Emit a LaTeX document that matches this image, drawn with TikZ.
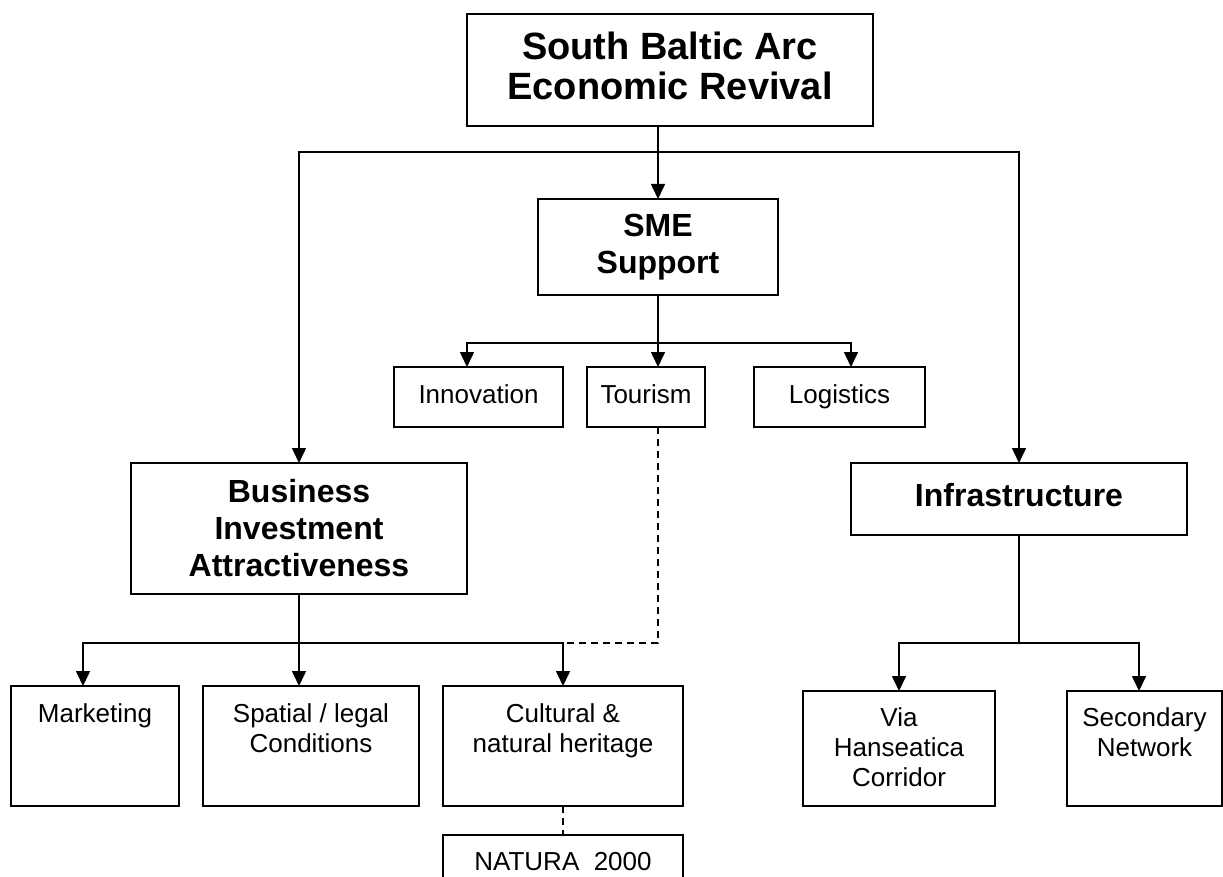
\documentclass[tikz,border=0pt]{standalone}
\usepackage{fontspec}
\setmainfont{Liberation Sans}
\usetikzlibrary{arrows.meta}
\newcommand\tbox[4]{\parbox[c][#2pt][t]{#1pt}{\centering\vspace*{#3pt}\strut #4}}
\begin{document}
\begin{tikzpicture}[x=1pt,y=-1pt,
  box/.style={draw=black, line width=1.6pt, rectangle, inner sep=0pt, outer sep=0pt},
  ttl/.style={font=\fontsize{38}{40}\selectfont\bfseries, align=center},
  hd/.style={font=\fontsize{32}{37}\selectfont\bfseries, align=center},
  sm/.style={font=\fontsize{26}{30}\selectfont},
  conn/.style={line width=1.6pt},
  arr/.style={conn, -{Triangle[length=15pt,width=14pt]}},
  dsh/.style={conn, dash pattern=on 7pt off 5pt},
]
\useasboundingbox (0,0) rectangle (1223,877);
\fill[white] (0,0) rectangle (1223,877);
\clip (0,0) rectangle (1223,877);

\node[box, ttl, minimum width=406pt, minimum height=112pt] (top) at (670,70) {South Baltic Arc\\Economic Revival\rule[-8pt]{0pt}{8pt}};
\node[box, hd, minimum width=240pt, minimum height=96pt] (sme) at (658,247) {SME\\Support};
\node[box, sm, minimum width=169pt, minimum height=60pt] (inn) at (478.5,397) {\strut Innovation};
\node[box, sm, minimum width=118pt, minimum height=60pt] (tour) at (646,397) {\strut Tourism};
\node[box, sm, minimum width=171pt, minimum height=60pt] (log) at (839.5,397) {\strut Logistics};
\node[box, hd, minimum width=336pt, minimum height=131pt] (bus) at (299,528.5) {Business\\Investment\\Attractiveness};
\node[box, hd, minimum width=336pt, minimum height=72pt] (infra) at (1019,499) {\strut Infrastructure};
\node[box, sm] (mk) at (95,746) {\tbox{168}{120}{15}{Marketing}};
\node[box, sm] (sp) at (311,746) {\tbox{216}{120}{15}{Spatial / legal\\Conditions}};
\node[box, sm] (cu) at (563,746) {\tbox{240}{120}{15}{Cultural \&\\natural heritage}};
\node[box, sm] (via) at (899,748.5) {\tbox{192}{115}{14}{Via\\Hanseatica\\Corridor}};
\node[box, sm] (sec) at (1144.5,748.5) {\tbox{155}{115}{14}{Secondary\\Network}};
\node[box, sm] (nat) at (563,862.5) {\tbox{240}{55}{14}{NATURA~~2000}};

\coordinate (j1) at (658,152);
\draw[arr] (sme.north |- top.south) -- (sme.north);
\draw[arr] (j1) -| (bus.north);
\draw[arr] (j1) -| (infra.north);

\coordinate (j2) at (658,343);
\coordinate (a1) at (467,343);
\coordinate (a3) at (851,343);
\draw[conn] (sme.south) -- (j2);
\draw[arr] (j2) -- (a1) -- (a1 |- inn.north);
\draw[arr] (j2) -- (j2 |- tour.north);
\draw[arr] (j2) -- (a3) -- (a3 |- log.north);

\coordinate (j3) at (299,643);
\coordinate (b1) at (83,643);
\coordinate (b3) at (563,643);
\draw[conn] (bus.south) -- (j3);
\draw[arr] (j3) -- (b1) -- (b1 |- mk.north);
\draw[arr] (j3) -- (j3 |- sp.north);
\draw[arr] (j3) -- (b3) -- (b3 |- cu.north);
\draw[dsh] (j2 |- tour.south) -- (j2 |- b3) -- (b3);
\draw[dsh] (cu.south) -- (nat.north);

\coordinate (j4) at (1019,643);
\coordinate (c1) at (899,643);
\coordinate (c2) at (1139,643);
\draw[conn] (infra.south) -- (j4);
\draw[arr] (j4) -- (c1) -- (c1 |- via.north);
\draw[arr] (j4) -- (c2) -- (c2 |- sec.north);
\end{tikzpicture}
\end{document}
